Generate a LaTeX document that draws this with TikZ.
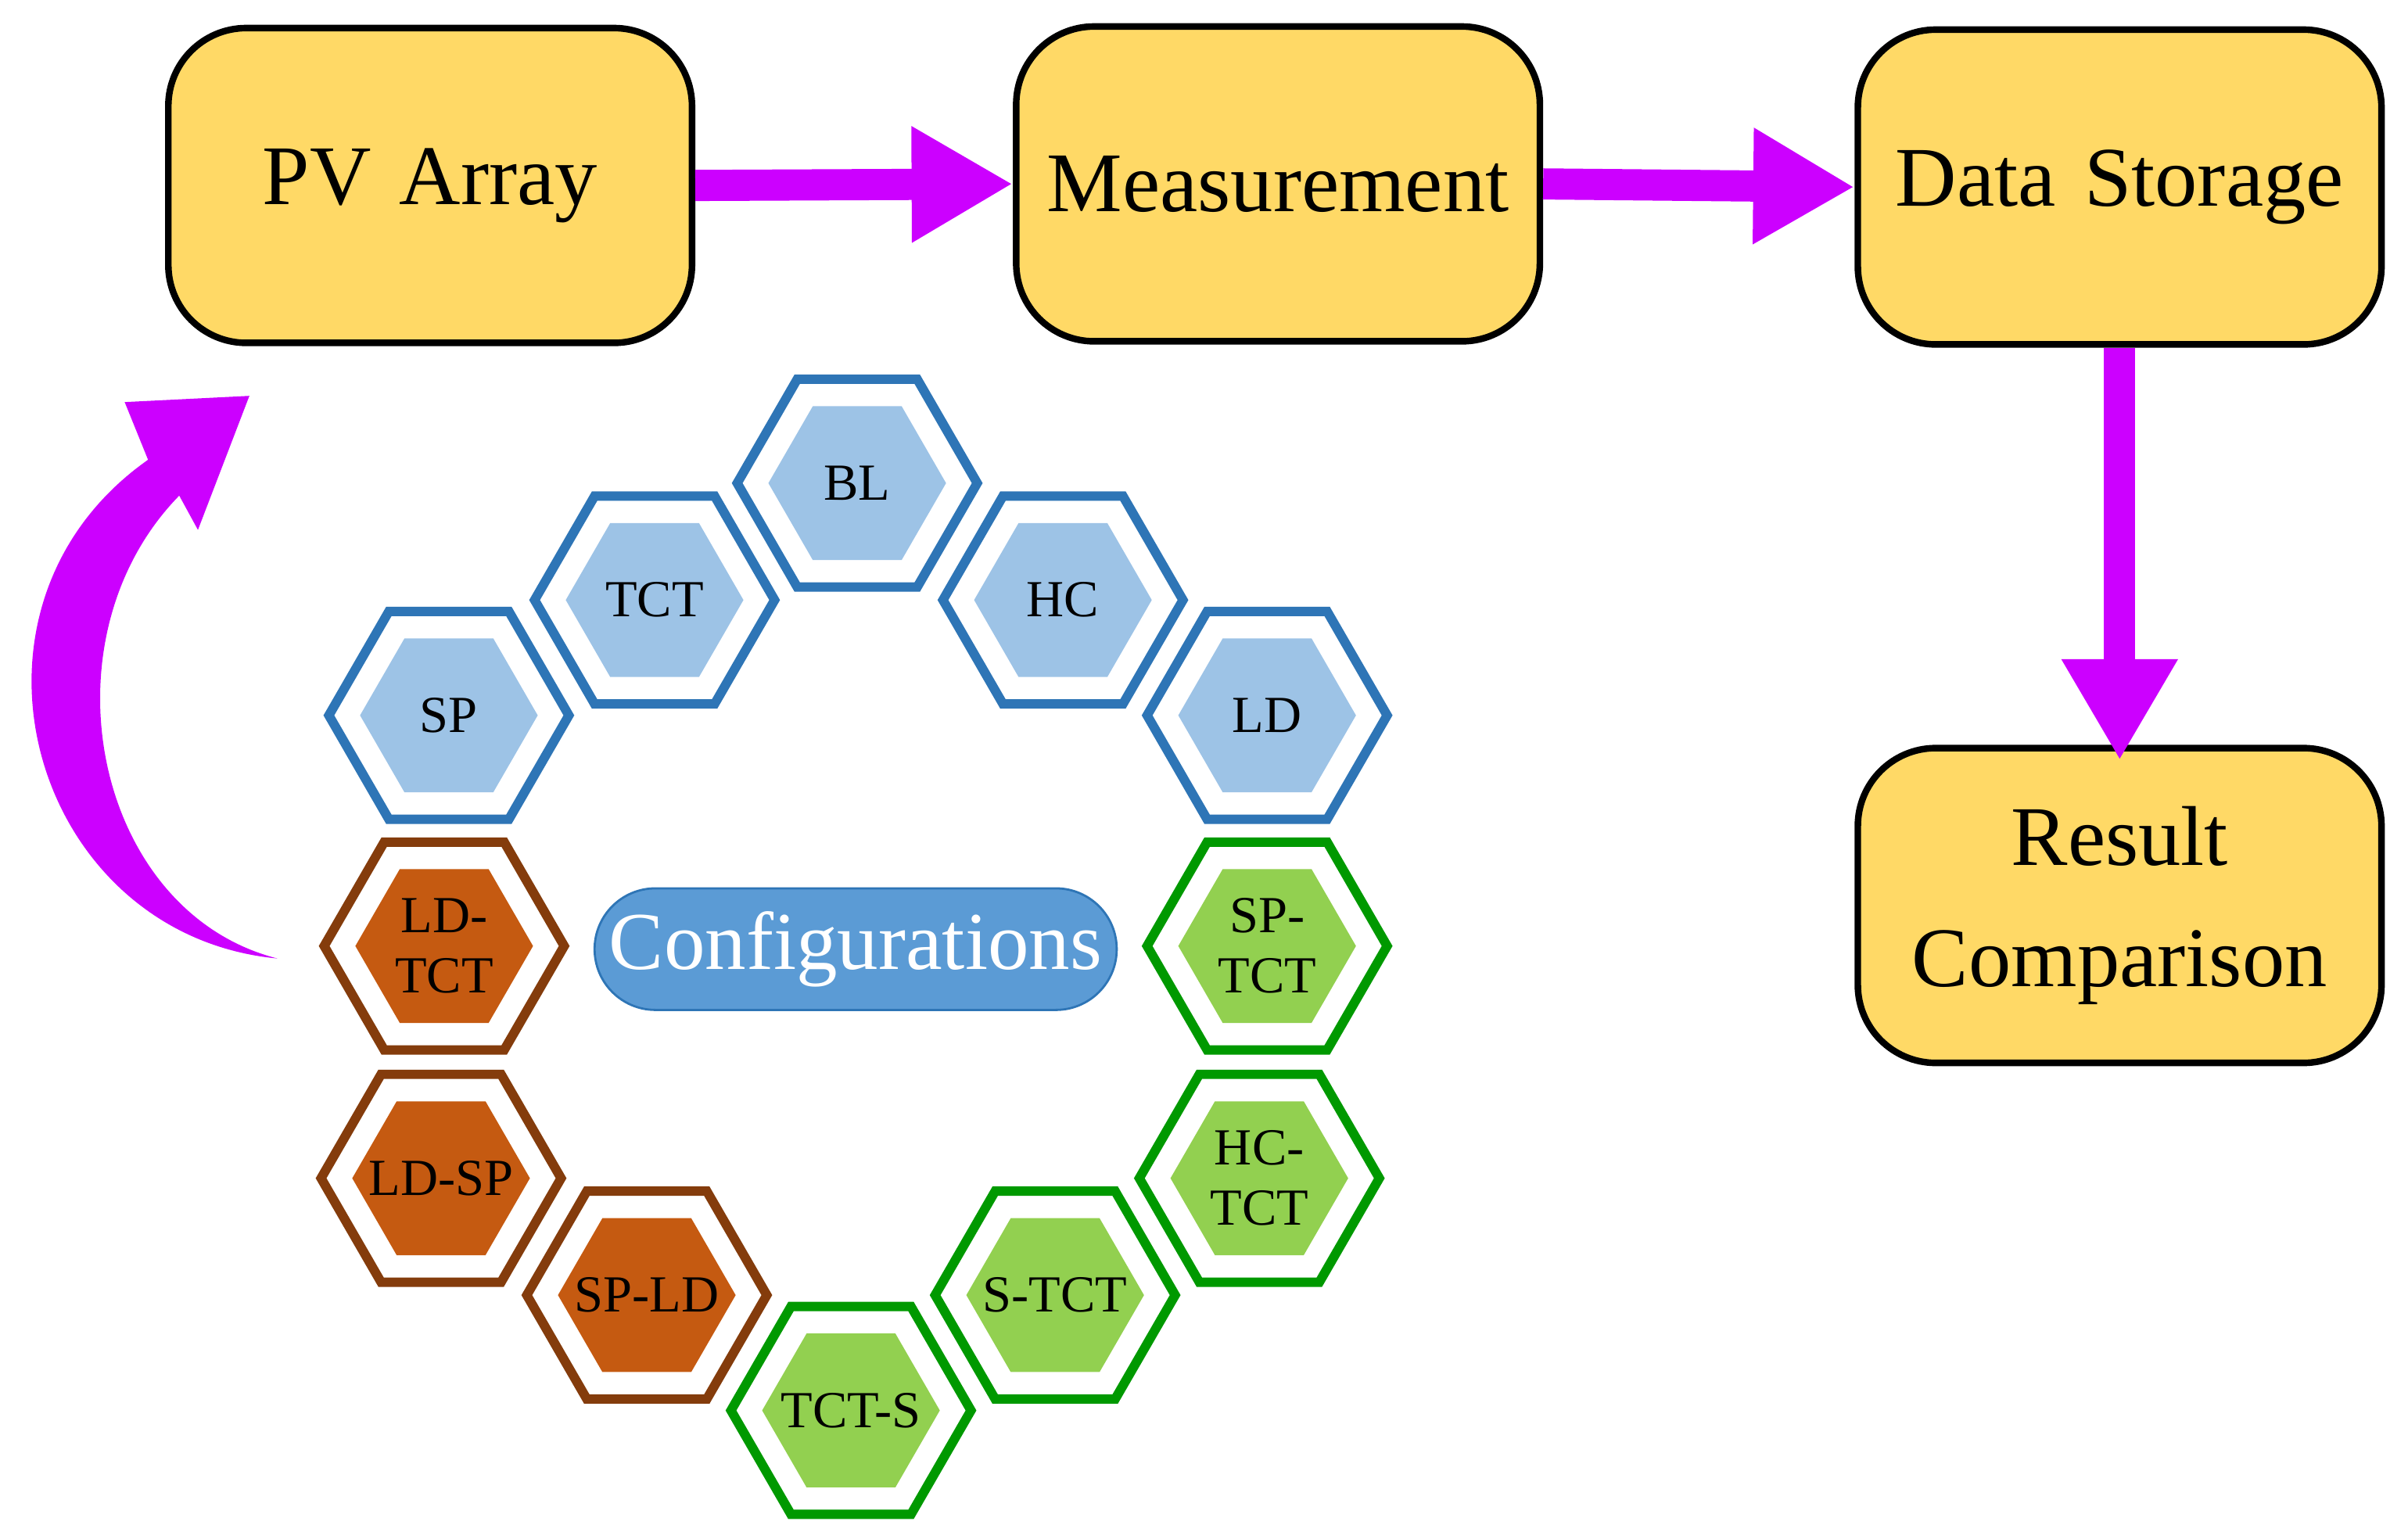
\documentclass[tikz,border=0pt]{standalone}
\usepackage{fontspec}
\setmainfont{Liberation Serif}
\usetikzlibrary{arrows.meta}
\definecolor{boxfill}{HTML}{FFD966}
\definecolor{mag}{HTML}{CC00FF}
\definecolor{bline}{HTML}{2E75B6}
\definecolor{bfill}{HTML}{9DC3E6}
\definecolor{rline}{HTML}{843C0C}
\definecolor{rfill}{HTML}{C55A11}
\definecolor{gline}{HTML}{009900}
\definecolor{gfill}{HTML}{92D050}
\definecolor{pill}{HTML}{5B9BD5}
\tikzset{
  box/.style={draw=black, line width=1.2pt, fill=boxfill, rounded corners=5mm,
    minimum width=3.36cm, minimum height=2.02cm, text width=3.2cm, align=center,
    inner sep=0pt, font=\fontsize{15.5}{22}\selectfont},
  flow/.style={mag, line width=2mm, -{Triangle[length=6.5mm,width=7mm]}},
  hlab/.style={align=center, font=\fontsize{9.5}{11}\selectfont, inner sep=0pt}
}
% \hexa{name}{x,y}{line colour}{fill colour}{text}
\newcommand{\hexa}[5]{%
  \draw[#3, line width=0.6mm, shift={(#2)}]
    (0:77) -- (60:77) -- (120:77) -- (180:77) -- (240:77) -- (300:77) -- cycle;
  \fill[#4, shift={(#2)}]
    (0:57) -- (60:57) -- (120:57) -- (180:57) -- (240:57) -- (300:57) -- cycle;
  \node[hlab] (#1) at (#2) {#5};}
\begin{document}
\begin{tikzpicture}[x=0.1mm, y=-0.1mm]
\useasboundingbox (0,0) rectangle (1545,983);

\node[box] (pv) at (276,119) {PV Array};
\node[box] (meas) at (820,118) {Measurement};
\node[box] (ds) at (1360,120) {Data Storage};
\node[box] (res) at (1360,581) {Result\\Comparison};

\draw[flow] (pv.east) -- (meas.west);
\draw[flow] (meas.east) -- (ds.west);
\draw[flow] (ds.south) -- ([yshift=-1mm]res.north);

% curved return arrow
\fill[mag] (178,615) .. controls (20,600) and (-40,390) .. (95,295)
  -- (80,258) -- (160,254) -- (127,340) -- (115,318)
  .. controls (25,410) and (60,585) .. (178,615) -- cycle;

\node[fill=pill, draw=bline, line width=0.4pt, rounded corners=3.9mm,
  minimum width=3.35cm, minimum height=7.8mm, text=white, inner sep=0pt,
  font=\fontsize{15}{18}\selectfont] (conf) at (549,609) {Configurations};

\hexa{bl}{550,310}{bline}{bfill}{BL}
\hexa{tct}{420,385}{bline}{bfill}{TCT}
\hexa{hc}{682,385}{bline}{bfill}{HC}
\hexa{sp}{288,459}{bline}{bfill}{SP}
\hexa{ld}{813,459}{bline}{bfill}{LD}
\hexa{ldtct}{285,607}{rline}{rfill}{LD-\\TCT}
\hexa{sptct}{813,607}{gline}{gfill}{SP-\\TCT}
\hexa{ldsp}{283,756}{rline}{rfill}{LD-SP}
\hexa{hctct}{808,756}{gline}{gfill}{HC-\\TCT}
\hexa{spld}{415,831}{rline}{rfill}{SP-LD}
\hexa{stct}{677,831}{gline}{gfill}{S-TCT}
\hexa{tcts}{546,905}{gline}{gfill}{TCT-S}
\end{tikzpicture}
\end{document}
